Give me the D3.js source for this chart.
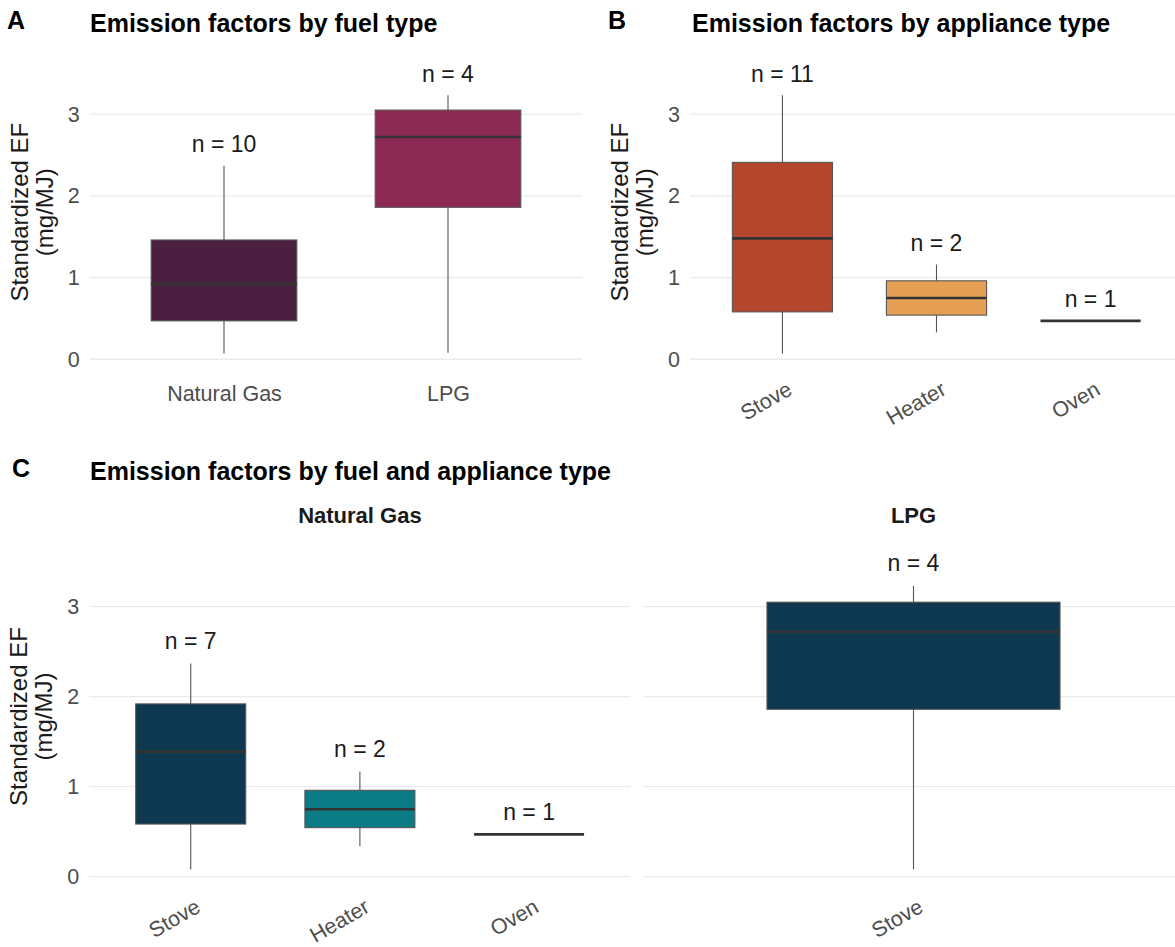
<!DOCTYPE html>
<html>
<meta charset="utf-8">
<script src="https://d3js.org/d3.v7.min.js"></script>
<head>
<style>
  body { margin: 0; background: #fff; }
  text { font-family: "Liberation Sans", Arial, Helvetica, sans-serif; }
</style>
</head>
<body>
<div id="chart"></div>
<script>
// ---- data ----
var yTicks = [0, 1, 2, 3];

// panel A: by fuel type
var fuelCats   = ["Natural Gas", "LPG"];
var fuelLow    = [0.07, 0.08];
var fuelQ1     = [0.47, 1.86];
var fuelMed    = [0.92, 2.72];
var fuelQ3     = [1.46, 3.05];
var fuelHigh   = [2.37, 3.23];
var fuelN      = [10, 4];
var fuelColors = ["#4a1f3f", "#8c2a54"];

// panel B: by appliance type
var applCats   = ["Stove", "Heater", "Oven"];
var applLow    = [0.07, 0.33, 0.47];
var applQ1     = [0.58, 0.54, 0.47];
var applMed    = [1.48, 0.75, 0.47];
var applQ3     = [2.41, 0.96, 0.47];
var applHigh   = [3.23, 1.16, 0.47];
var applN      = [11, 2, 1];
var applColors = ["#b5452d", "#e5a055", "#6b2d3a"];

// panel C: natural gas facet
var ngCats   = ["Stove", "Heater", "Oven"];
var ngLow    = [0.08, 0.34, 0.47];
var ngQ1     = [0.585, 0.545, 0.47];
var ngMed    = [1.39, 0.75, 0.47];
var ngQ3     = [1.92, 0.96, 0.47];
var ngHigh   = [2.37, 1.17, 0.47];
var ngN      = [7, 2, 1];
var ngColors = ["#0e3850", "#0b7c85", "#2a6f5e"];

// panel C: LPG facet
var lpgCats   = ["Stove"];
var lpgLow    = [0.08];
var lpgQ1     = [1.86];
var lpgMed    = [2.72];
var lpgQ3     = [3.05];
var lpgHigh   = [3.23];
var lpgN      = [4];
var lpgColors = ["#0e3850"];

function rows(cats, lo, q1, med, q3, hi, n, colors) {
  return cats.map(function(c, i) {
    return {cat: c, lo: lo[i], q1: q1[i], med: med[i], q3: q3[i], hi: hi[i], n: n[i], color: colors[i]};
  });
}

var svg = d3.select("#chart").append("svg")
    .attr("width", 1175)
    .attr("height", 947);

// y scales: top row and bottom row
var yTop = d3.scaleLinear().domain([-0.08, 3.68]).range([365.8, 58.6]);
var yBot = d3.scaleLinear().domain([-0.08, 3.64]).range([883.9, 549.1]);

function drawPanel(opt) {
  var g = svg.append("g");
  var x = d3.scalePoint().domain(opt.data.map(function(d) { return d.cat; }))
      .range(opt.xr).padding(0.6);
  var y = opt.y;
  var boxW = x.step() * 0.65;

  // grid
  g.selectAll(".grid").data(yTicks).enter().append("line")
      .attr("x1", opt.xr[0]).attr("x2", opt.xr[1])
      .attr("y1", function(d) { return y(d); })
      .attr("y2", function(d) { return y(d); })
      .style("stroke", "#ebebeb").style("stroke-width", 1.3);

  // y axis labels
  if (opt.yAxis) {
    var ya = g.append("g")
        .attr("transform", "translate(" + opt.xr[0] + ",0)")
        .call(d3.axisLeft(y).tickValues(yTicks).tickFormat(d3.format("d"))
              .tickSize(0).tickPadding(10));
    ya.select(".domain").remove();
    ya.selectAll("text").style("font-size", "21.5px").style("fill", "#4d4d4d")
        .style("font-family", "Liberation Sans, Arial, sans-serif");

    var mid = (y.range()[0] + y.range()[1]) / 2;
    var t = g.append("text")
        .attr("transform", "translate(" + (opt.xr[0] - 62) + "," + mid + ") rotate(-90)")
        .attr("text-anchor", "middle")
        .style("font-size", "24px").style("fill", "#1a1a1a");
    t.append("tspan").attr("x", 0).attr("dy", 0).text("Standardized EF");
    t.append("tspan").attr("x", 0).attr("dy", "1.05em").text("(mg/MJ)");
  }

  // x axis labels
  var xa = g.append("g")
      .attr("transform", "translate(0," + y(0) + ")")
      .call(d3.axisBottom(x).tickSize(0).tickPadding(26));
  xa.select(".domain").remove();
  xa.selectAll("text").style("font-size", "21.5px").style("fill", "#4d4d4d")
      .style("font-family", "Liberation Sans, Arial, sans-serif");
  if (opt.rotate) {
    xa.selectAll("text")
        .attr("x", 0).attr("y", 0).attr("dy", "0.71em")
        .attr("text-anchor", "end")
        .attr("transform", "translate(3,21) rotate(-30)");
  }

  var box = g.selectAll(".box").data(opt.data).enter().append("g");

  // whiskers
  box.append("line")
      .attr("x1", function(d) { return x(d.cat); })
      .attr("x2", function(d) { return x(d.cat); })
      .attr("y1", function(d) { return y(d.hi); })
      .attr("y2", function(d) { return y(d.q3); })
      .style("stroke", "#555").style("stroke-width", 1.1);
  box.append("line")
      .attr("x1", function(d) { return x(d.cat); })
      .attr("x2", function(d) { return x(d.cat); })
      .attr("y1", function(d) { return y(d.q1); })
      .attr("y2", function(d) { return y(d.lo); })
      .style("stroke", "#555").style("stroke-width", 1.1);

  // box
  box.append("rect")
      .attr("x", function(d) { return x(d.cat) - boxW / 2; })
      .attr("width", boxW)
      .attr("y", function(d) { return y(d.q3); })
      .attr("height", function(d) { return y(d.q1) - y(d.q3); })
      .style("fill", function(d) { return d.color; })
      .style("stroke", "#555").style("stroke-width", 1.1);

  // median
  box.append("line")
      .attr("x1", function(d) { return x(d.cat) - boxW / 2; })
      .attr("x2", function(d) { return x(d.cat) + boxW / 2; })
      .attr("y1", function(d) { return y(d.med); })
      .attr("y2", function(d) { return y(d.med); })
      .style("stroke", "#333").style("stroke-width", 2.6);

  // n labels
  box.append("text")
      .attr("x", function(d) { return x(d.cat); })
      .attr("y", function(d) { return y(d.hi + 0.165); })
      .attr("text-anchor", "middle")
      .style("font-size", "23px").style("fill", "#1a1a1a")
      .text(function(d) { return "n = " + d.n; });

  if (opt.strip) {
    g.append("text")
        .attr("x", (opt.xr[0] + opt.xr[1]) / 2)
        .attr("y", 523)
        .attr("text-anchor", "middle")
        .style("font-size", "22px").style("font-weight", "bold").style("fill", "#1a1a1a")
        .text(opt.strip);
  }
}

function heading(tag, tagX, title, titleX, yBase) {
  svg.append("text").attr("x", tagX).attr("y", yBase - 3)
      .style("font-size", "25px").style("font-weight", "bold").style("fill", "#000")
      .text(tag);
  svg.append("text").attr("x", titleX).attr("y", yBase)
      .style("font-size", "25px").style("font-weight", "bold").style("fill", "#000")
      .text(title);
}

drawPanel({data: rows(fuelCats, fuelLow, fuelQ1, fuelMed, fuelQ3, fuelHigh, fuelN, fuelColors),
           xr: [89.6, 582.4], y: yTop, yAxis: true, rotate: false});
drawPanel({data: rows(applCats, applLow, applQ1, applMed, applQ3, applHigh, applN, applColors),
           xr: [690, 1183], y: yTop, yAxis: true, rotate: true});
drawPanel({data: rows(ngCats, ngLow, ngQ1, ngMed, ngQ3, ngHigh, ngN, ngColors),
           xr: [89.2, 630.6], y: yBot, yAxis: true, rotate: true, strip: "Natural Gas"});
drawPanel({data: rows(lpgCats, lpgLow, lpgQ1, lpgMed, lpgQ3, lpgHigh, lpgN, lpgColors),
           xr: [643, 1184], y: yBot, yAxis: false, rotate: true, strip: "LPG"});

heading("A", 7, "Emission factors by fuel type", 90, 32);
heading("B", 608, "Emission factors by appliance type", 692, 32);
heading("C", 12, "Emission factors by fuel and appliance type", 90, 480);
</script>
</body>
</html>
